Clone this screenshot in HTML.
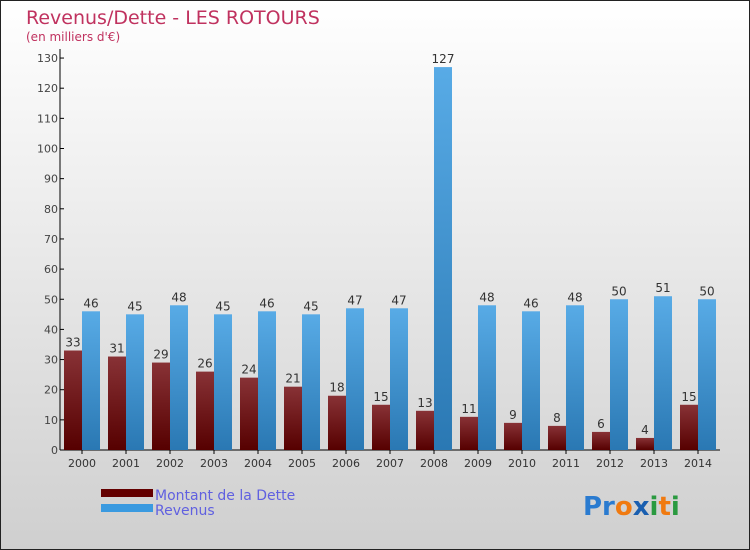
<!DOCTYPE html>
<html><head><meta charset="utf-8"><style>
body{margin:0}
#c{position:relative;width:748px;height:548px;border:1px solid #222;background:linear-gradient(#fff,#cfcfcf);overflow:hidden;font-family:"DejaVu Sans","Liberation Sans",sans-serif}
</style></head><body>
<div id="c">
<svg width="748" height="548">
<defs>
<linearGradient id="gd" x1="0" y1="0" x2="0" y2="1"><stop offset="0" stop-color="#883236"/><stop offset="1" stop-color="#560000"/></linearGradient>
<linearGradient id="gr" x1="0" y1="0" x2="0" y2="1"><stop offset="0" stop-color="#58abe6"/><stop offset="1" stop-color="#2a78b3"/></linearGradient>
</defs>
<text x="25" y="23" font-size="19" fill="#c0325f">Revenus/Dette - LES ROTOURS</text>
<text x="25" y="40" font-size="12" fill="#c0325f">(en milliers d'€)</text>
<g id="ax"></g>
<g id="bars"></g>
<rect x="100" y="488" width="52" height="8" fill="#640000"/>
<rect x="100" y="503" width="52" height="8" fill="#3a9ae0"/>
<text x="154" y="499" font-size="14" fill="#6060e0">Montant de la Dette</text>
<text x="154" y="514" font-size="14" fill="#6060e0">Revenus</text>
<text x="582" y="514" font-size="26" font-weight="bold"><tspan fill="#2a7bd0">Pr</tspan><tspan fill="#f07a10">o</tspan><tspan fill="#1a5fb0">x</tspan><tspan fill="#2a9a40">i</tspan><tspan fill="#f07a10">t</tspan><tspan fill="#2a9a40">i</tspan></text>
</svg>
</div>
<script>
const years=["2000","2001","2002","2003","2004","2005","2006","2007","2008","2009","2010","2011","2012","2013","2014"];
const dette=[33,31,29,26,24,21,18,15,13,11,9,8,6,4,15];
const revenus=[46,45,48,45,46,45,47,47,127,48,46,48,50,51,50];
const ticks=[0,10,20,30,40,50,60,70,80,90,100,110,120,130];
const NS="http://www.w3.org/2000/svg";
const y=v=>449-v*3.015, xc=i=>81+i*44;
function mk(t,a,p){const e=document.createElementNS(NS,t);for(const k in a)e.setAttribute(k,a[k]);p.appendChild(e);return e;}
const ax=document.getElementById('ax'),bars=document.getElementById('bars');
const yl=mk('line',{x1:59,y1:48,x2:59,y2:449,stroke:'#000'},ax);


const xl=mk('line',{x1:59,y1:449,x2:719,y2:449,stroke:'#000'},ax);


ticks.forEach(t=>{
 mk('line',{x1:59,y1:y(t),x2:63,y2:y(t),stroke:'#000'},ax);
 const tx=mk('text',{x:57,y:y(t)+4,'font-size':11,fill:'#444','text-anchor':'end'},ax);
 tx.textContent=t;
 
 
});
years.forEach((yr,i)=>{
 const c=xc(i);
 mk('line',{x1:c,y1:449,x2:c,y2:453,stroke:'#000'},ax);
 const tx=mk('text',{x:c,y:466,'font-size':11,fill:'#333','text-anchor':'middle'},ax);
 tx.textContent=yr;
 
 
 const b1=mk('rect',{x:c-18,y:y(dette[i]),width:18,height:449-y(dette[i]),fill:'url(#gd)'},bars);
 
 
 const b2=mk('rect',{x:c,y:y(revenus[i]),width:18,height:449-y(revenus[i]),fill:'url(#gr)'},bars);
 
 
 const l1=mk('text',{x:c-9,y:y(dette[i])-4,'font-size':12,fill:'#333','text-anchor':'middle'},bars);
 l1.textContent=dette[i];
 
 
 const l2=mk('text',{x:c+9,y:y(revenus[i])-4,'font-size':12,fill:'#333','text-anchor':'middle'},bars);
 l2.textContent=revenus[i];
 
 
});
</script>
</body></html>
